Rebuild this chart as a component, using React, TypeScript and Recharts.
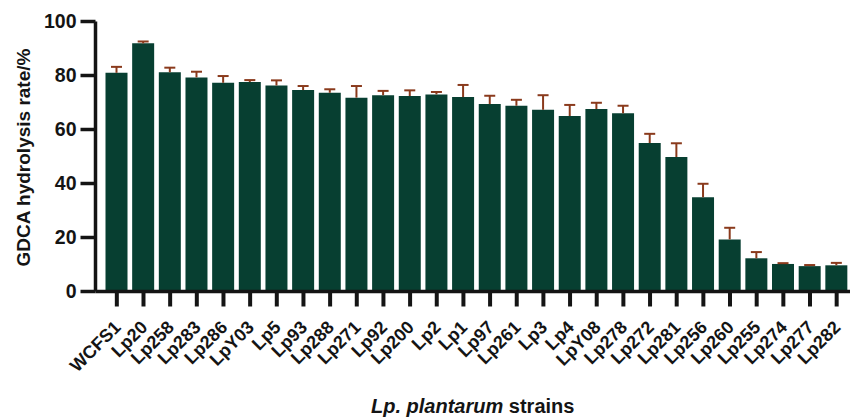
import React from 'react';
import { BarChart, Bar, XAxis, YAxis, Label } from 'recharts';

// Strains in plotted order
const strains = [
  'WCFS1', 'Lp20', 'Lp258', 'Lp283', 'Lp286', 'LpY03', 'Lp5', 'Lp93', 'Lp288', 'Lp271',
  'Lp92', 'Lp200', 'Lp2', 'Lp1', 'Lp97', 'Lp261', 'Lp3', 'Lp4', 'LpY08', 'Lp278',
  'Lp272', 'Lp281', 'Lp256', 'Lp260', 'Lp255', 'Lp274', 'Lp277', 'Lp282',
];

// Mean GDCA hydrolysis rate (%)
const rates = [
  81.0, 91.9, 81.2, 79.3, 77.3, 77.6, 76.3, 74.6, 73.6, 71.8,
  72.7, 72.4, 73.0, 72.0, 69.4, 68.8, 67.3, 65.0, 67.6, 66.0,
  55.0, 49.8, 34.9, 19.3, 12.3, 10.2, 9.4, 9.7,
];

// Upper error (SD)
const errors = [
  2.2, 0.7, 1.7, 2.1, 2.5, 0.7, 1.9, 1.5, 1.3, 4.3,
  1.6, 2.1, 0.9, 4.5, 3.1, 2.2, 5.4, 4.1, 2.3, 2.8,
  3.4, 5.1, 5.0, 4.3, 2.3, 0.3, 0.4, 0.9,
];

const yTicks = [0, 20, 40, 60, 80, 100];

const data = strains.map((name, i) => ({ name, rate: rates[i], err: errors[i] }));

const FONT = '"Liberation Sans", Arial, Helvetica, sans-serif';
const BAR_COLOR = '#073f31';
const ERR_COLOR = '#8a3a1c';
const AXIS_COLOR = '#141414';

// draws the error segment stacked on top of each bar (upper whisker only)
function ErrorShape(props: any) {
  const { x, y, width, height } = props;
  const cx = x + width / 2;
  return (
    <g>
      <line x1={cx} x2={cx} y1={y + height} y2={y} stroke={ERR_COLOR} strokeWidth={2} />
      <line x1={cx - 5.5} x2={cx + 5.5} y1={y} y2={y} stroke={ERR_COLOR} strokeWidth={2} />
    </g>
  );
}

function StrainTick(props: any) {
  const { x, y, payload } = props;
  return (
    <g transform={`translate(${x},${y})`}>
      <text
        x={5}
        y={22}
        textAnchor="end"
        transform="rotate(-45 5 22)"
        fontFamily={FONT}
        fontWeight="bold"
        fontSize={18}
        fill={AXIS_COLOR}
      >
        {payload.value}
      </text>
    </g>
  );
}

function XTitle(props: any) {
  const { viewBox } = props;
  const cx = viewBox.x + viewBox.width / 2;
  const by = viewBox.y + viewBox.height - 4;
  return (
    <text x={cx} y={by} textAnchor="middle" fontFamily={FONT} fontWeight="bold" fontSize={20} fill={AXIS_COLOR}>
      <tspan fontStyle="italic">Lp. plantarum</tspan>
      <tspan> strains</tspan>
    </text>
  );
}

function YTitle(props: any) {
  const { viewBox } = props;
  const cy = viewBox.y + viewBox.height / 2 + 1;
  const cx = 23;
  return (
    <text
      x={cx}
      y={cy}
      textAnchor="middle"
      dominantBaseline="central"
      transform={`rotate(-90 ${cx} ${cy})`}
      fontFamily={FONT}
      fontWeight="bold"
      fontSize={19}
      fill={AXIS_COLOR}
    >
      GDCA hydrolysis rate/%
    </text>
  );
}

export default function App() {
  return (
    <div style={{ position: 'absolute', left: 0, top: 0, background: '#fff' }}>
      <BarChart
        width={851}
        height={417}
        data={data}
        margin={{ top: 21.5, right: 1, bottom: 0, left: 0 }}
      >
        <XAxis
          dataKey="name"
          interval={0}
          height={125.5}
          padding={{ left: 8, right: 0 }}
          tickSize={15}
          tickMargin={0}
          axisLine={{ stroke: AXIS_COLOR, strokeWidth: 3.5 }}
          tickLine={{ stroke: AXIS_COLOR, strokeWidth: 4 }}
          tick={<StrainTick />}
        >
          <Label content={<XTitle />} />
        </XAxis>
        <YAxis
          width={95.5}
          domain={[0, 100]}
          ticks={yTicks}
          interval={0}
          tickSize={15}
          tickMargin={4}
          axisLine={{ stroke: AXIS_COLOR, strokeWidth: 3.5 }}
          tickLine={{ stroke: AXIS_COLOR, strokeWidth: 3.5 }}
          tick={{ fontFamily: FONT, fontWeight: 'bold', fontSize: 19.5, fill: AXIS_COLOR }}
        >
          <Label content={<YTitle />} />
        </YAxis>
        <Bar dataKey="rate" stackId="s" fill={BAR_COLOR} barSize={22} isAnimationActive={false} />
        <Bar dataKey="err" stackId="s" barSize={22} shape={<ErrorShape />} isAnimationActive={false} />
      </BarChart>
    </div>
  );
}
